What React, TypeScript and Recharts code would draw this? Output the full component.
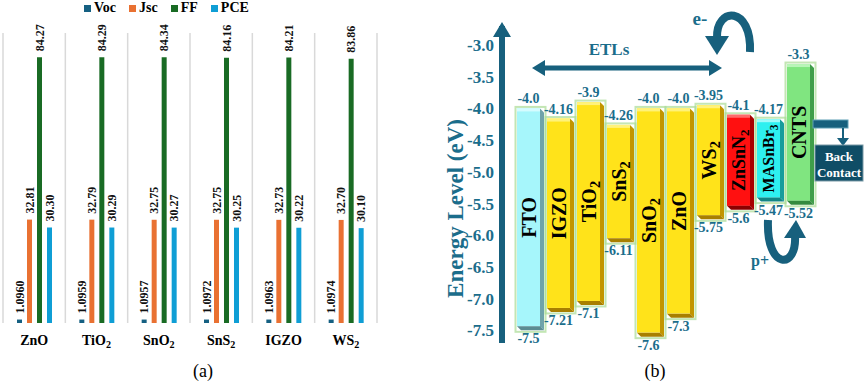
import React from 'react';
import { Bar, BarChart, CartesianGrid, LabelList, Legend, XAxis, YAxis } from 'recharts';

const SERIF = 'Liberation Serif, Tinos, Times New Roman, DejaVu Serif, Noto Serif, serif';
const TEAL = '#17607d';
const TEAL_TEXT = '#1b6d8b';

// (a) device parameters for each ETL
const etls = ['ZnO', 'TiO2', 'SnO2', 'SnS2', 'IGZO', 'WS2'];
const voc = [1.096, 1.0959, 1.0957, 1.0972, 1.0963, 1.0974];
const jsc = [32.81, 32.79, 32.75, 32.75, 32.73, 32.7];
const ff = [84.27, 84.29, 84.34, 84.16, 84.21, 83.86];
const pce = [30.3, 30.29, 30.27, 30.25, 30.22, 30.1];
const seriesKeys = ['Voc', 'Jsc', 'FF', 'PCE'];
const seriesDigits = [4, 2, 2, 2];
const seriesColors = ['#156082', '#E97132', '#196B24', '#0F9ED5'];

// (b) band alignment (eV)
const layers = ['FTO', 'IGZO', 'TiO2', 'SnS2', 'SnO2', 'ZnO', 'WS2', 'ZnSnN2', 'MASnBr3', 'CNTS'];
const cbLevels = [-4.0, -4.16, -3.9, -4.26, -4.0, -4.0, -3.95, -4.1, -4.17, -3.3];
const vbLevels = [-7.5, -7.21, -7.1, -6.11, -7.6, -7.3, -5.75, -5.6, -5.47, -5.52];
const energyTicks = [-3.0, -3.5, -4.0, -4.5, -5.0, -5.5, -6.0, -6.5, -7.0, -7.5];

const perfData = etls.map((name, i) => ({ name, Voc: voc[i], Jsc: jsc[i], FF: ff[i], PCE: pce[i] }));
const energyData = layers.map((name, i) => ({ name, range: [vbLevels[i], cbLevels[i]] }));

const yellow = { face: '#ffe31a', light: '#fff27a', dark: '#c29500', darker: '#a87f00' };
const barStyles = [
  { face: '#a6f6fb', light: '#d6fcff', dark: '#6fa3aa', darker: '#5b8c92' },
  yellow, yellow, yellow, yellow, yellow, yellow,
  { face: '#ff1010', light: '#ff6a6a', dark: '#a80000', darker: '#8c0000' },
  { face: '#2ef0f0', light: '#9ffafa', dark: '#179c9c', darker: '#128585' },
  { face: '#80e580', light: '#b8f5b8', dark: '#3f9e4a', darker: '#348a3e' },
];
const nameSizes: Record<string, number> = { ZnSnN2: 18, MASnBr3: 16 };

function Formula({ text }: { text: string }) {
  const parts = text.split(/(\d+)/).filter(Boolean);
  return (
    <>
      {parts.map((p, i) =>
        /^\d+$/.test(p) ? (
          <tspan key={i} fontSize="0.72em" dy="0.3em">{p}</tspan>
        ) : (
          <tspan key={i}>{p}</tspan>
        )
      )}
    </>
  );
}

function EtlTick({ x, y, payload }: any) {
  return (
    <text x={x} y={y + 14} textAnchor="middle" fontFamily={SERIF} fontWeight="bold" fontSize={14} fill="#000">
      <Formula text={payload.value} />
    </text>
  );
}

const rotatedLabel = (digits: number) => (props: any) => {
  const { x, y, width, value } = props;
  const cx = Number(x) + Number(width) / 2;
  return (
    <text
      transform={`translate(${cx},${Number(y) - 6}) rotate(-90)`}
      dy="0.35em"
      fontSize={12}
      fontWeight="bold"
      fontFamily={SERIF}
      fill="#111"
    >
      {Number(value).toFixed(digits)}
    </text>
  );
};

function LegendBox() {
  return (
    <div style={{ display: 'flex', gap: 13, fontFamily: SERIF, fontWeight: 'bold', fontSize: 14, color: '#000' }}>
      {seriesKeys.map((k, i) => (
        <span key={k} style={{ display: 'flex', alignItems: 'center', gap: 3 }}>
          <span style={{ width: 7, height: 7, background: seriesColors[i], display: 'inline-block' }} />
          {k}
        </span>
      ))}
    </div>
  );
}

function norm(props: any) {
  let y = Number(props.y);
  let h = Number(props.height);
  if (h < 0) {
    y += h;
    h = -h;
  }
  return { x: Number(props.x), y, w: Number(props.width), h };
}

function EnergyBar(props: any) {
  const { x, y, w, h } = norm(props);
  const idx = props.index;
  const c = barStyles[idx];
  const d = 4;
  const fw = w - d;
  const bottom = y + h;
  const name = layers[idx];
  return (
    <g>
      <rect x={x - 1.5} y={y - 1.5} width={w + 3} height={h + 3} fill="none" stroke="#a9dc94" strokeWidth={2} opacity={0.7} />
      <rect x={x} y={y} width={fw} height={h - d} fill={c.face} />
      <rect x={x} y={y} width={fw} height={3} fill={c.light} />
      <polygon points={`${x + fw},${y} ${x + w},${y + d} ${x + w},${bottom} ${x + fw},${bottom - d}`} fill={c.dark} />
      <polygon points={`${x},${bottom - d} ${x + fw},${bottom - d} ${x + w},${bottom} ${x + d},${bottom}`} fill={c.darker} />
      <text
        transform={`translate(${x + fw / 2},${y + (h - d) / 2}) rotate(-90)`}
        textAnchor="middle"
        dy="0.35em"
        fontFamily={SERIF}
        fontWeight="bold"
        fontSize={nameSizes[name] ?? 20}
        fill="#000"
      >
        <Formula text={name} />
      </text>
    </g>
  );
}

const fmtLevel = (v: number) => (Number.isInteger(v) ? v.toFixed(1) : String(v));

function CbLabel(props: any) {
  const { x, y, w } = norm(props);
  return (
    <text x={x + (w - 4) / 2} y={y - 5} textAnchor="middle" fontFamily={SERIF} fontWeight="bold" fontSize={14} fill={TEAL_TEXT}>
      {fmtLevel(cbLevels[props.index])}
    </text>
  );
}

function VbLabel(props: any) {
  const { x, y, w, h } = norm(props);
  return (
    <text x={x + (w - 4) / 2} y={y + h + 13} textAnchor="middle" fontFamily={SERIF} fontWeight="bold" fontSize={14} fill={TEAL_TEXT}>
      {fmtLevel(vbLevels[props.index])}
    </text>
  );
}

function EnergyTitle(props: any) {
  const vb = props.viewBox || {};
  const cx = Number(vb.x) + 25;
  const cy = Number(vb.y) + Number(vb.height) / 2 + 24;
  return (
    <text
      transform={`translate(${cx},${cy}) rotate(-90)`}
      textAnchor="middle"
      dy="0.35em"
      fontFamily={SERIF}
      fontWeight="bold"
      fontSize={23}
      fill={TEAL_TEXT}
    >
      Energy Level (eV)
    </text>
  );
}

export default function App() {
  return (
    <div style={{ position: 'absolute', left: 0, top: 0, width: 865, height: 385, background: '#fff', overflow: 'hidden', fontFamily: SERIF }}>
      <div style={{ position: 'absolute', left: 0, top: 0 }}>
        <BarChart width={420} height={385} data={perfData} margin={{ top: 33, right: 43, left: 3, bottom: 0 }} barSize={5} barGap={5}>
          <CartesianGrid
            horizontal={false}
            stroke="#d9d9d9"
            strokeWidth={1.5}
            verticalCoordinatesGenerator={({ offset }: any) => {
              const left = offset?.left ?? 3;
              const w = offset?.width ?? 374;
              return etls.concat(['']).map((_, i) => left + (i * w) / etls.length);
            }}
          />
          <XAxis dataKey="name" height={62} axisLine={false} tickLine={false} interval={0} tick={<EtlTick />} />
          <YAxis hide domain={[0, 92]} />
          <Legend verticalAlign="middle" align="center" wrapperStyle={{ top: 0, left: 84, width: 'auto' }} content={() => <LegendBox />} />
          {seriesKeys.map((k, i) => (
            <Bar key={k} dataKey={k} fill={seriesColors[i]} isAnimationActive={false}>
              <LabelList dataKey={k} content={rotatedLabel(seriesDigits[i])} />
            </Bar>
          ))}
        </BarChart>
      </div>

      <div style={{ position: 'absolute', left: 430, top: 0 }}>
        <BarChart width={435} height={385} data={energyData} margin={{ top: 26, right: 50, left: 0, bottom: 42 }} barSize={27}>
          <XAxis dataKey="name" hide padding={{ left: 13, right: 0 }} />
          <YAxis
            domain={[-7.7, -2.7]}
            ticks={energyTicks}
            allowDataOverflow
            width={72}
            axisLine={{ stroke: TEAL, strokeWidth: 6 }}
            tickLine={false}
            tick={{ fill: TEAL_TEXT, fontSize: 17, fontWeight: 'bold', fontFamily: SERIF }}
            tickFormatter={(v: number) => v.toFixed(1)}
            label={<EnergyTitle />}
          />
          <Bar dataKey="range" shape={<EnergyBar />} isAnimationActive={false}>
            <LabelList dataKey="name" content={<CbLabel />} />
            <LabelList dataKey="name" content={<VbLabel />} />
          </Bar>
        </BarChart>
      </div>

      <svg width={865} height={385} style={{ position: 'absolute', left: 0, top: 0, pointerEvents: 'none' }} fontFamily={SERIF}>
        {/* energy axis arrow head */}
        <polygon points="502,22 493,37 511,37" fill={TEAL} />
        {/* ETLs span */}
        <text x={609} y={55} textAnchor="middle" fontWeight="bold" fontSize={17} fill={TEAL_TEXT}>ETLs</text>
        <rect x={543} y={65.5} width={168} height={5} fill={TEAL} />
        <polygon points="532,68 545,60 545,76" fill={TEAL} />
        <polygon points="722,68 709,60 709,76" fill={TEAL} />
        {/* electron path */}
        <text x={700} y={25} textAnchor="middle" fontWeight="bold" fontSize={19} fill={TEAL_TEXT}>e-</text>
        <path d="M 750 52 C 752 6, 716 6, 717 38" stroke={TEAL} strokeWidth={8} fill="none" />
        <polygon points="705,36 729,36 717,55" fill={TEAL} />
        {/* hole path */}
        <path d="M 768 220 C 766 270, 797 270, 795 236" stroke={TEAL} strokeWidth={8} fill="none" />
        <polygon points="784,238 806,238 796,220" fill={TEAL} />
        <text x={760} y={266} textAnchor="middle" fontWeight="bold" fontSize={16} fill={TEAL_TEXT}>p+</text>
        {/* back contact */}
        <rect x={813} y={120} width={35} height={8} fill={TEAL} stroke="#5f9fb5" strokeWidth={1} />
        <line x1={843} y1={128} x2={843} y2={139} stroke={TEAL} strokeWidth={2} />
        <polygon points="837,138 849,138 843,146" fill={TEAL} />
        <rect x={815} y={145} width={48} height={36} fill="#0f4d66" stroke="#7a9aa6" strokeWidth={1} />
        <text x={839} y={161} textAnchor="middle" fontWeight="bold" fontSize={13} fill="#fff">Back</text>
        <text x={839} y={177} textAnchor="middle" fontWeight="bold" fontSize={13} fill="#fff">Contact</text>
        {/* panel captions */}
        <text x={203} y={377} textAnchor="middle" fontSize={18} fill="#000">(a)</text>
        <text x={655} y={377} textAnchor="middle" fontSize={18} fill="#000">(b)</text>
      </svg>
    </div>
  );
}
